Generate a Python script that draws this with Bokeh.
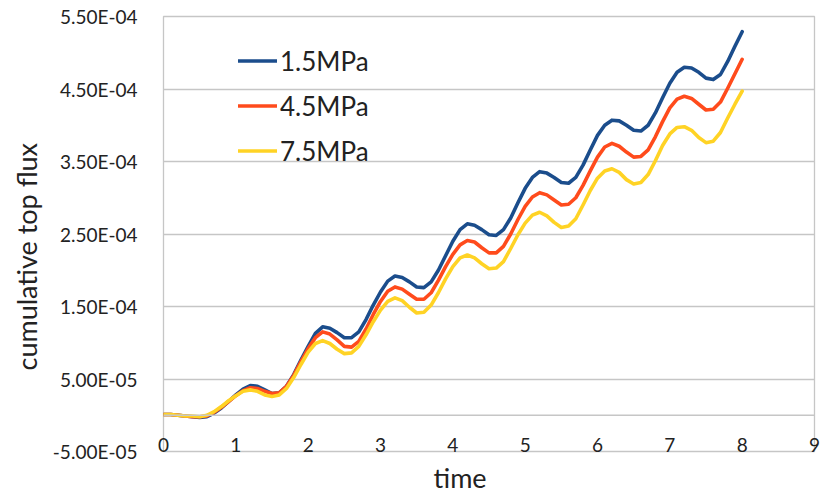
from bokeh.plotting import figure
from bokeh.models import (Range1d, FixedTicker, CustomJSTickFormatter, Span,
                          Legend, LegendItem, Title)
from bokeh.embed import file_html
from bokeh.resources import INLINE

# ---- data (cumulative top flux) ----
time = [round(i * 0.1, 1) for i in range(81)]

flux_15 = [0.01, 0.01, 0.00, -0.01, -0.02, -0.03, -0.02, 0.03, 0.10, 0.19,
           0.28, 0.36, 0.41, 0.40, 0.35, 0.30, 0.31, 0.40, 0.56, 0.76,
           0.95, 1.13, 1.22, 1.20, 1.14, 1.07, 1.07, 1.15, 1.32, 1.52,
           1.70, 1.85, 1.92, 1.90, 1.84, 1.77, 1.76, 1.84, 2.00, 2.20,
           2.40, 2.56, 2.64, 2.62, 2.56, 2.49, 2.48, 2.56, 2.72, 2.93,
           3.13, 3.28, 3.36, 3.34, 3.28, 3.21, 3.20, 3.28, 3.45, 3.66,
           3.86, 4.00, 4.07, 4.06, 4.00, 3.93, 3.92, 4.00, 4.17, 4.38,
           4.58, 4.73, 4.80, 4.79, 4.73, 4.65, 4.63, 4.70, 4.88, 5.09,
           5.29]

flux_45 = [0.01, 0.01, 0.00, -0.01, -0.02, -0.02, -0.01, 0.04, 0.11, 0.19,
           0.27, 0.34, 0.38, 0.37, 0.33, 0.30, 0.31, 0.40, 0.55, 0.74,
           0.92, 1.07, 1.15, 1.12, 1.04, 0.95, 0.94, 1.02, 1.19, 1.39,
           1.57, 1.71, 1.77, 1.74, 1.67, 1.60, 1.60, 1.69, 1.86, 2.05,
           2.22, 2.35, 2.41, 2.39, 2.31, 2.24, 2.24, 2.33, 2.50, 2.70,
           2.88, 3.01, 3.07, 3.04, 2.97, 2.90, 2.91, 3.00, 3.17, 3.37,
           3.56, 3.70, 3.75, 3.71, 3.63, 3.56, 3.57, 3.66, 3.84, 4.05,
           4.24, 4.36, 4.40, 4.37, 4.29, 4.21, 4.22, 4.32, 4.51, 4.71,
           4.91]

flux_75 = [0.01, 0.01, 0.00, -0.01, -0.01, -0.02, 0.00, 0.05, 0.12, 0.20,
           0.27, 0.33, 0.35, 0.33, 0.28, 0.26, 0.28, 0.37, 0.52, 0.70,
           0.87, 0.99, 1.03, 0.99, 0.91, 0.85, 0.86, 0.95, 1.11, 1.29,
           1.45, 1.57, 1.62, 1.58, 1.49, 1.41, 1.42, 1.52, 1.69, 1.88,
           2.05, 2.17, 2.21, 2.17, 2.09, 2.02, 2.03, 2.12, 2.30, 2.49,
           2.65, 2.76, 2.80, 2.75, 2.66, 2.59, 2.61, 2.71, 2.90, 3.10,
           3.27, 3.37, 3.40, 3.35, 3.25, 3.19, 3.21, 3.32, 3.51, 3.72,
           3.88, 3.97, 3.98, 3.93, 3.83, 3.76, 3.78, 3.90, 4.10, 4.29,
           4.47]

series_names = ["1.5MPa", "4.5MPa", "7.5MPa"]
series_colors = ["#1B4D8C", "#FF4B1C", "#FFD325"]
x_ticks = [0, 1, 2, 3, 4, 5, 6, 7, 8, 9]
y_ticks = [-5e-5, 5e-5, 1.5e-4, 2.5e-4, 3.5e-4, 4.5e-4, 5.5e-4]
scale = 1e-4

FONT = "Lato"
GRID = "#C6C6C6"
TEXT = "#222222"

p = figure(frame_width=651, frame_height=435, output_backend="svg", toolbar_location=None,
           x_range=Range1d(0, 9), y_range=Range1d(-5e-5, 5.5e-4))
p.min_border_left = 163
p.min_border_right = 12
p.min_border_top = 16
p.min_border_bottom = 0
p.background_fill_color = "white"
p.border_fill_color = "white"
p.outline_line_color = GRID
p.outline_line_width = 1.3

# grid
p.xgrid.visible = False
p.ygrid.ticker = FixedTicker(ticks=y_ticks)
p.ygrid.grid_line_color = GRID
p.ygrid.grid_line_width = 1.3
p.add_layout(Span(location=0, dimension="width", line_color=GRID, line_width=1.3))

# axes
p.xaxis.ticker = FixedTicker(ticks=x_ticks)
p.yaxis.ticker = FixedTicker(ticks=y_ticks)
p.yaxis.formatter = CustomJSTickFormatter(code="""
const s = tick.toExponential(2).toUpperCase();
const parts = s.split("E");
let e = parseInt(parts[1]);
const sign = e < 0 ? "-" : "";
e = Math.abs(e);
return parts[0] + "E" + sign + (e < 10 ? "0" + e : "" + e);
""")
for ax in (p.xaxis[0], p.yaxis[0]):
    ax.axis_line_color = None
    ax.major_tick_line_color = None
    ax.minor_tick_line_color = None
    ax.major_label_text_font = FONT
    ax.major_label_text_font_size = "19px"
    ax.major_label_text_color = TEXT
p.yaxis.major_label_standoff = 20
p.xaxis.major_label_standoff = -20

# lines
renderers = []
for ys, color in zip([flux_15, flux_45, flux_75], series_colors):
    r = p.line(time, [v * scale for v in ys], line_color=color, line_width=3.6,
               line_join="round", line_cap="round")
    renderers.append(r)

legend = Legend(items=[LegendItem(label=n, renderers=[r]) for n, r in zip(series_names, renderers)],
                location=(75, 278), orientation="vertical")
legend.border_line_color = None
legend.background_fill_alpha = 0
legend.padding = 0
legend.margin = 0
legend.spacing = 0
legend.glyph_width = 39
legend.glyph_height = 45
legend.label_height = 45
legend.label_standoff = 3
legend.label_text_font = FONT
legend.label_text_font_size = "26px"
legend.label_text_color = TEXT
p.add_layout(legend)

# axis titles
p.add_layout(Title(text="time", align="left", offset=270, text_font=FONT,
                   text_font_size="27px", text_font_style="normal",
                   text_color=TEXT, standoff=9), "below")
p.add_layout(Title(text="cumulative top flux", align="left", offset=81, text_font=FONT,
                   text_font_size="27px", text_font_style="normal",
                   text_color=TEXT, standoff=13), "left")

open("out.html", "w").write(file_html(p, INLINE))
